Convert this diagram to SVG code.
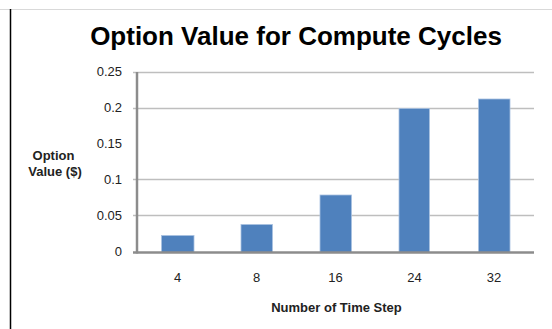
<svg xmlns="http://www.w3.org/2000/svg" width="552" height="329" viewBox="0 0 552 329">
<style>
text{font-family:"Liberation Sans",Arial,sans-serif;fill:#000}
.tick{font-size:13px;text-anchor:end;fill:#222}
.xl{font-size:13px;text-anchor:middle;fill:#222}
.lab{font-size:13px;font-weight:bold;text-anchor:middle;fill:#222}
.grid{stroke:#BEBEBE;stroke-width:1.5}
.bar{fill:#4F81BD;stroke:#A9C1E0;stroke-width:0.8}
.ax{stroke:#8C8C8C;stroke-width:2.5}
</style>
<rect x="0" y="0" width="552" height="329" fill="#fff"/>
<line x1="0" y1="9.5" x2="552" y2="9.5" stroke="#D9D9D9" stroke-width="1"/>
<line x1="10.5" y1="9" x2="10.5" y2="329" stroke="#000" stroke-width="1.5"/>
<text id="title" x="296" y="45" font-size="26" font-weight="bold" text-anchor="middle">Option Value for Compute Cycles</text>
<g id="grid">
<line class="grid" x1="133" y1="72.5" x2="534" y2="72.5"/>
<line class="grid" x1="133" y1="108.5" x2="534" y2="108.5"/>
<line class="grid" x1="133" y1="179.5" x2="534" y2="179.5"/>
<line class="grid" x1="133" y1="215.5" x2="534" y2="215.5"/>
</g>
<g id="bars">
<rect id="bar-4" class="bar" x="161.5" y="235.5" width="32.5" height="17"/>
<rect id="bar-8" class="bar" x="241" y="224.5" width="31.5" height="28"/>
<rect id="bar-16" class="bar" x="320" y="195" width="31.5" height="57.5"/>
<rect id="bar-24" class="bar" x="399" y="108.5" width="30.5" height="144"/>
<rect id="bar-32" class="bar" x="478.5" y="99" width="31.5" height="153.5"/>
</g>
<g id="axes">
<line class="ax" x1="137" y1="72" x2="137" y2="253.5"/>
<line class="ax" x1="133" y1="252.5" x2="534" y2="252.5"/>
</g>
<g id="yticks">
<text class="tick" x="122" y="76">0.25</text>
<text class="tick" x="122" y="112">0.2</text>
<text class="tick" x="122" y="148">0.15</text>
<text class="tick" x="122" y="184">0.1</text>
<text class="tick" x="122" y="220">0.05</text>
<text class="tick" x="122" y="256">0</text>
</g>
<g id="xticks">
<text class="xl" x="177.5" y="282">4</text>
<text class="xl" x="256.5" y="282">8</text>
<text class="xl" x="335.5" y="282">16</text>
<text class="xl" x="414.5" y="282">24</text>
<text class="xl" x="494" y="282">32</text>
</g>
<g id="ylabel">
<text class="lab" x="53.5" y="159.5">Option</text>
<text class="lab" x="55" y="175.5">Value ($)</text>
</g>
<text id="xlabel" class="lab" x="336.5" y="311.5">Number of Time Step</text>
</svg>
